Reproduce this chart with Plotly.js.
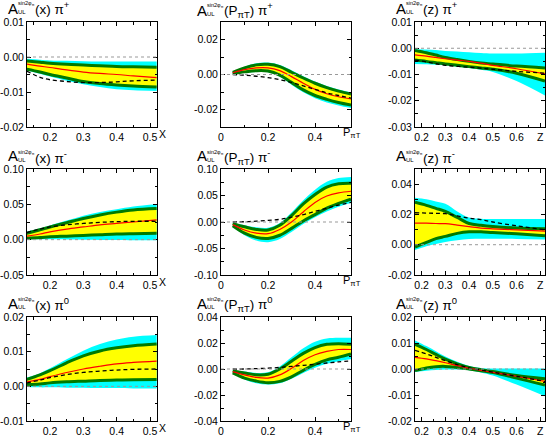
<!DOCTYPE html>
<html>
<head>
<meta charset="utf-8">
<script src="https://cdn.plot.ly/plotly-3.0.1.min.js"></script>
<style>html,body{margin:0;padding:0;background:#fff;}#chart{width:550px;height:437px;}</style>
</head>
<body>
<div id="chart"></div>
<script>
// ---------------- data ----------------
// column 1: x
const xX = [0.13, 0.17, 0.2, 0.25, 0.3, 0.35, 0.4, 0.45, 0.52];
// column 2: P_piT
const xP = [0.05, 0.1, 0.15, 0.2, 0.25, 0.3, 0.35, 0.4, 0.45, 0.5, 0.553];
// column 3: z
const xZ = [0.172, 0.22, 0.26, 0.3, 0.35, 0.4, 0.45, 0.5, 0.6, 0.72];

// panel 1: x, pi+
const p1CyanLo = [-0.0038, -0.0048, -0.0056, -0.0068, -0.0078, -0.0086, -0.0092, -0.0095, -0.0097];
const p1CyanHi = [-0.0005, -0.0008, -0.001, -0.0011, -0.0012, -0.0013, -0.0013, -0.0013, -0.0013];
const p1YelLo  = [-0.0035, -0.0043, -0.005, -0.006, -0.007, -0.0076, -0.008, -0.0083, -0.0086];
const p1YelHi  = [-0.0011, -0.0015, -0.0018, -0.0021, -0.0023, -0.0025, -0.0027, -0.0028, -0.0029];
const p1Red    = [-0.002, -0.0026, -0.003, -0.0037, -0.0043, -0.0047, -0.005, -0.0054, -0.0059];
const p1Dash   = [-0.004, -0.0058, -0.0065, -0.007, -0.0073, -0.0073, -0.0071, -0.0068, -0.0066];

// panel 2: P_piT, pi+
const p2CyanLo = [0.0003, 0.001, 0.0015, 0.0013, -0.0013, -0.0058, -0.0102, -0.0135, -0.016, -0.0177, -0.0192];
const p2CyanHi = [0.0015, 0.0045, 0.0065, 0.0068, 0.0055, 0.0025, -0.001, -0.004, -0.0065, -0.0085, -0.0102];
const p2YelLo  = [0.0005, 0.0015, 0.0022, 0.002, -0.0003, -0.0045, -0.0088, -0.012, -0.0142, -0.016, -0.0175];
const p2YelHi  = [0.0012, 0.0038, 0.0055, 0.0058, 0.0045, 0.0013, -0.002, -0.005, -0.0075, -0.0095, -0.0112];
const p2Red    = [0.001, 0.0028, 0.0038, 0.0038, 0.0022, -0.0012, -0.005, -0.0085, -0.011, -0.0127, -0.014];
const p2Dash   = [0, -0.0004, -0.001, -0.0018, -0.003, -0.0045, -0.0065, -0.0085, -0.0105, -0.012, -0.0135];

// panel 3: z, pi+
const p3CyanLo = [-0.006, -0.0061, -0.0063, -0.0065, -0.007, -0.0075, -0.0082, -0.009, -0.0125, -0.018];
const p3CyanHi = [-0.0003, -0.0005, -0.0007, -0.001, -0.0012, -0.0015, -0.0018, -0.002, -0.002, -0.0017];
const p3YelLo  = [-0.0045, -0.005, -0.0055, -0.006, -0.0065, -0.007, -0.0075, -0.008, -0.0095, -0.0125];
const p3YelHi  = [-0.0008, -0.0017, -0.0026, -0.0035, -0.0043, -0.005, -0.0056, -0.006, -0.0068, -0.0075];
const p3Red    = [-0.0025, -0.003, -0.0035, -0.004, -0.0045, -0.005, -0.0057, -0.0065, -0.0078, -0.0098];
const p3Dash   = [-0.0045, -0.0052, -0.0059, -0.0065, -0.0069, -0.0072, -0.0076, -0.008, -0.0088, -0.0095];

// panel 4: x, pi-
const p4CyanLo = [0.0005, 0.0005, 0.0005, 0.0003, 0, -0.0003, -0.0005, -0.0008, -0.001];
const p4CyanHi = [0.011, 0.016, 0.02, 0.027, 0.034, 0.039, 0.043, 0.047, 0.05];
const p4YelLo  = [0.002, 0.003, 0.004, 0.005, 0.006, 0.007, 0.008, 0.0085, 0.009];
const p4YelHi  = [0.009, 0.014, 0.018, 0.024, 0.03, 0.035, 0.039, 0.042, 0.044];
const p4Red    = [0.005, 0.008, 0.011, 0.015, 0.018, 0.021, 0.023, 0.025, 0.028];
const p4Dash   = [0.01, 0.015, 0.018, 0.021, 0.023, 0.0245, 0.0255, 0.026, 0.026];

// panel 5: P_piT, pi-
const p5CyanLo = [-0.009, -0.025, -0.035, -0.038, -0.032, -0.019, -0.004, 0.009, 0.02, 0.029, 0.036];
const p5CyanHi = [-0.002, -0.006, -0.01, -0.011, -0.002, 0.018, 0.041, 0.061, 0.076, 0.083, 0.085];
const p5YelLo  = [-0.007, -0.021, -0.029, -0.031, -0.025, -0.012, 0.002, 0.014, 0.026, 0.035, 0.043];
const p5YelHi  = [-0.003, -0.009, -0.014, -0.015, -0.006, 0.012, 0.034, 0.052, 0.066, 0.072, 0.073];
const p5Red    = [-0.005, -0.015, -0.021, -0.022, -0.014, 0.0, 0.019, 0.037, 0.049, 0.055, 0.058];
const p5Dash   = [0, 0.0005, 0.0015, 0.003, 0.005, 0.009, 0.014, 0.02, 0.026, 0.032, 0.037];

// panel 6: z, pi-
const p6CyanLo = [-0.0035, -0.001, 0.0005, 0.0018, 0.003, 0.0038, 0.004, 0.004, 0.0038, 0.0035];
const p6CyanHi = [0.031, 0.03, 0.0285, 0.027, 0.022, 0.018, 0.0172, 0.017, 0.017, 0.017];
const p6YelLo  = [-0.0015, 0.0015, 0.004, 0.0055, 0.0075, 0.0085, 0.0085, 0.008, 0.0072, 0.006];
const p6YelHi  = [0.028, 0.026, 0.024, 0.022, 0.018, 0.014, 0.0128, 0.012, 0.011, 0.0105];
const p6Red    = [0.0143, 0.0142, 0.014, 0.0139, 0.013, 0.012, 0.011, 0.0105, 0.0098, 0.009];
const p6Dash   = [0.0211, 0.0209, 0.0207, 0.0205, 0.019, 0.0175, 0.0166, 0.015, 0.0125, 0.0098];

// panel 7: x, pi0
const p7CyanLo = [-0.0002, -0.0003, -0.0003, -0.0004, -0.0004, -0.0005, -0.0005, -0.0006, -0.0006];
const p7CyanHi = [0.0025, 0.0038, 0.0052, 0.0078, 0.0103, 0.0122, 0.0135, 0.0143, 0.0148];
const p7YelLo  = [0.0005, 0.0007, 0.001, 0.0013, 0.0015, 0.0017, 0.0018, 0.0019, 0.002];
const p7YelHi  = [0.002, 0.0033, 0.0045, 0.0068, 0.0088, 0.0102, 0.0111, 0.0117, 0.0122];
const p7Red    = [0.0013, 0.002, 0.0028, 0.004, 0.005, 0.0058, 0.0065, 0.0069, 0.0073];
const p7Dash   = [0.001, 0.0018, 0.0025, 0.0034, 0.004, 0.0044, 0.0047, 0.0049, 0.005];

// panel 8: P_piT, pi0
const p8CyanLo = [-0.0035, -0.008, -0.011, -0.012, -0.011, -0.0075, -0.003, 0.001, 0.004, 0.006, 0.0075];
const p8CyanHi = [-0.001, -0.002, -0.003, -0.0025, 0.002, 0.009, 0.016, 0.021, 0.0235, 0.024, 0.024];
const p8YelLo  = [-0.003, -0.007, -0.0093, -0.0105, -0.0095, -0.006, -0.001, 0.0035, 0.007, 0.009, 0.0115];
const p8YelHi  = [-0.0015, -0.003, -0.0045, -0.004, 0.0, 0.006, 0.012, 0.0165, 0.019, 0.0195, 0.019];
const p8Red    = [-0.002, -0.0045, -0.0065, -0.007, -0.0045, 0.0005, 0.0065, 0.011, 0.0135, 0.015, 0.015];
const p8Dash   = [0, 0, 0.0003, 0.0006, 0.0012, 0.002, 0.0028, 0.0037, 0.0046, 0.0055, 0.0062];

// panel 9: z, pi0
const p9CyanLo = [-0.0012, -0.0007, -0.0004, -0.0002, -0.0002, -0.0005, -0.0013, -0.0025, -0.006, -0.0105];
const p9CyanHi = [0.011, 0.0088, 0.0068, 0.0048, 0.0028, 0.0012, 0.0004, 0.0002, 0.0002, 0.0002];
const p9YelLo  = [-0.0006, 0.0004, 0.0009, 0.001, 0.0006, 0.0, -0.0007, -0.0014, -0.0035, -0.0062];
const p9YelHi  = [0.0095, 0.0075, 0.0056, 0.0038, 0.002, 0.0006, -0.0003, -0.001, -0.0025, -0.0038];
const p9Red    = [0.0045, 0.0039, 0.0032, 0.0024, 0.0013, 0.0003, -0.0005, -0.0013, -0.0028, -0.0048];
const p9Dash   = [0.0072, 0.0058, 0.0045, 0.0032, 0.0017, 0.0004, -0.0004, -0.0012, -0.0028, -0.0048];

// tick values / labels
const xTicksX = [0.2, 0.3, 0.4, 0.5];
const xTickTextX = ['0.2', '0.3', '0.4', '0.5'];
const xTicksP = [0, 0.2, 0.4];
const xTickTextP = ['0', '0.2', '0.4'];
const xTicksZ = [0.2, 0.3, 0.4, 0.5, 0.6, 0.7];
const xTickTextZ = ['0.2', '0.3', '0.4', '0.5', '0.6', 'Z'];

const y1Ticks = [-0.02, -0.01, 0, 0.01];            const y1Text = ['-0.02', '-0.01', '0.00', '0.01'];
const y2Ticks = [-0.02, 0, 0.02];                    const y2Text = ['-0.02', '0.00', '0.02'];
const y3Ticks = [-0.03, -0.02, -0.01, 0, 0.01];      const y3Text = ['-0.03', '-0.02', '-0.01', '0.00', '0.01'];
const y4Ticks = [-0.05, 0, 0.05, 0.1];               const y4Text = ['-0.05', '0.00', '0.05', '0.10'];
const y5Ticks = [-0.1, -0.05, 0, 0.05, 0.1];         const y5Text = ['-0.10', '-0.05', '0.00', '0.05', '0.10'];
const y6Ticks = [-0.02, 0, 0.02, 0.04];              const y6Text = ['-0.02', '0.00', '0.02', '0.04'];
const y7Ticks = [-0.01, 0, 0.01, 0.02];              const y7Text = ['-0.01', '0.00', '0.01', '0.02'];
const y8Ticks = [-0.04, -0.02, 0, 0.02, 0.04];       const y8Text = ['-0.04', '-0.02', '0.00', '0.02', '0.04'];
const y9Ticks = [-0.02, -0.01, 0, 0.01, 0.02];       const y9Text = ['-0.02', '-0.01', '0.00', '0.01', '0.02'];

const titleVar = ['(x)', '(P<sub>πT</sub>)', '(z)'];
const titleParticle = ['π<sup>+</sup>', 'π<sup>-</sup>', 'π<sup>0</sup>'];
const axisLabelX = 'X';
const axisLabelP = 'P<sub>πT</sub>';

// ---------------- layout geometry ----------------
const W = 550, H = 437;
const colPx = [[27, 157], [221, 351], [415, 545]];
const rowPx = [[22, 127], [169, 275], [317, 421]];
const fx = p => p / W;
const fy = p => 1 - p / H;

const cols = [
  {x: xX, range: [0.131, 0.521], tv: xTicksX, tt: xTickTextX, minor: 0.05},
  {x: xP, range: [0, 0.553], tv: xTicksP, tt: xTickTextP, minor: 0.1},
  {x: xZ, range: [0.172, 0.72], tv: xTicksZ, tt: xTickTextZ, minor: 0.05}
];
const panels = [
  {r:0,c:0, yr:[-0.02,0.01], tv:y1Ticks, tt:y1Text, minor:0.005, d:[p1CyanLo,p1CyanHi,p1YelLo,p1YelHi,p1Red,p1Dash]},
  {r:0,c:1, yr:[-0.03,0.03], tv:y2Ticks, tt:y2Text, minor:0.01, d:[p2CyanLo,p2CyanHi,p2YelLo,p2YelHi,p2Red,p2Dash]},
  {r:0,c:2, yr:[-0.03,0.01], tv:y3Ticks, tt:y3Text, minor:0.005, d:[p3CyanLo,p3CyanHi,p3YelLo,p3YelHi,p3Red,p3Dash]},
  {r:1,c:0, yr:[-0.05,0.10], tv:y4Ticks, tt:y4Text, minor:0.025, d:[p4CyanLo,p4CyanHi,p4YelLo,p4YelHi,p4Red,p4Dash]},
  {r:1,c:1, yr:[-0.10,0.10], tv:y5Ticks, tt:y5Text, minor:0.025, d:[p5CyanLo,p5CyanHi,p5YelLo,p5YelHi,p5Red,p5Dash]},
  {r:1,c:2, yr:[-0.02,0.05], tv:y6Ticks, tt:y6Text, minor:0.01, d:[p6CyanLo,p6CyanHi,p6YelLo,p6YelHi,p6Red,p6Dash]},
  {r:2,c:0, yr:[-0.01,0.02], tv:y7Ticks, tt:y7Text, minor:0.005, d:[p7CyanLo,p7CyanHi,p7YelLo,p7YelHi,p7Red,p7Dash]},
  {r:2,c:1, yr:[-0.04,0.04], tv:y8Ticks, tt:y8Text, minor:0.01, d:[p8CyanLo,p8CyanHi,p8YelLo,p8YelHi,p8Red,p8Dash]},
  {r:2,c:2, yr:[-0.02,0.02], tv:y9Ticks, tt:y9Text, minor:0.005, d:[p9CyanLo,p9CyanHi,p9YelLo,p9YelHi,p9Red,p9Dash]}
];

const CYAN = '#00ffff', YEL = '#ffff00', GREEN = '#007a00', RED = '#ff0000';
const FONT = 'Liberation Sans, Arial, Helvetica, sans-serif';
const tickFont = {family: FONT, size: 10.5, color: '#000'};

const traces = [];
const layout = {
  width: W, height: H,
  margin: {l: 0, r: 0, t: 0, b: 0},
  paper_bgcolor: '#fff', plot_bgcolor: '#fff',
  showlegend: false,
  shapes: [], annotations: []
};

const titleAx = [8, 197, 396];
const titleAy = [[8, 10, 8], [156, 156, 156], [303, 303, 303]];

panels.forEach((p, i) => {
  const n = i + 1;
  const xa = 'x' + (n === 1 ? '' : n), ya = 'y' + (n === 1 ? '' : n);
  const col = cols[p.c];
  const X = col.x;
  const base = {x: X, xaxis: xa, yaxis: ya, mode: 'lines', hoverinfo: 'skip'};
  const [cLo, cHi, yLo, yHi, red, dash] = p.d;
  traces.push(Object.assign({}, base, {y: cLo, line: {width: 0, shape: 'spline', color: CYAN}}));
  traces.push(Object.assign({}, base, {y: cHi, fill: 'tonexty', fillcolor: CYAN, line: {width: 0, shape: 'spline', color: CYAN}}));
  traces.push(Object.assign({}, base, {y: yLo, line: {width: 0, shape: 'spline', color: YEL}}));
  traces.push(Object.assign({}, base, {y: yHi, fill: 'tonexty', fillcolor: YEL, line: {width: 0, shape: 'spline', color: YEL}}));
  traces.push(Object.assign({}, base, {y: yLo, line: {width: 3, shape: 'spline', color: GREEN}}));
  traces.push(Object.assign({}, base, {y: yHi, line: {width: 3, shape: 'spline', color: GREEN}}));
  traces.push(Object.assign({}, base, {y: red, line: {width: 1.2, shape: 'spline', color: RED}}));
  traces.push(Object.assign({}, base, {y: dash, line: {width: 1.3, shape: 'spline', color: '#000', dash: '4px,3px'}}));

  const cp = colPx[p.c], rp = rowPx[p.r];
  layout['xaxis' + (n === 1 ? '' : n)] = {
    domain: [fx(cp[0]), fx(cp[1])], anchor: ya, range: col.range,
    tickmode: 'array', tickvals: col.tv, ticktext: col.tt,
    ticks: 'inside', ticklen: 4, tickwidth: 1, tickcolor: '#000',
    minor: {dtick: col.minor, tick0: 0, ticks: 'inside', ticklen: 2.5, tickcolor: '#000'},
    mirror: 'ticks', showline: true, linecolor: '#000', linewidth: 1,
    showgrid: false, zeroline: false, tickfont: tickFont, ticklabelstandoff: 0
  };
  layout['yaxis' + (n === 1 ? '' : n)] = {
    domain: [fy(rp[1]), fy(rp[0])], anchor: xa, range: p.yr,
    tickmode: 'array', tickvals: p.tv, ticktext: p.tt,
    ticks: 'inside', ticklen: 4, tickwidth: 1, tickcolor: '#000',
    minor: {dtick: p.minor, tick0: 0, ticks: 'inside', ticklen: 2.5, tickcolor: '#000'},
    mirror: 'ticks', showline: true, linecolor: '#000', linewidth: 1,
    showgrid: false, zeroline: false, tickfont: tickFont, ticklabelstandoff: 0
  };
  layout.shapes.push({type: 'line', xref: xa + ' domain', yref: ya, x0: 0, x1: 1, y0: 0, y1: 0,
    line: {color: '#999', width: 1, dash: 'dot'}, layer: 'above'});

  // title pieces
  const ax = titleAx[p.c], ay = titleAy[p.r][p.c];
  const ann = (text, x, y, size) => layout.annotations.push({
    text: text, xref: 'paper', yref: 'paper', x: fx(x), y: fy(y), xanchor: 'left', yanchor: 'middle',
    showarrow: false, font: {family: FONT, size: size, color: '#000'}, borderpad: 0
  });
  ann('A', ax - 1, ay, 15);
  ann('sin2φ<sub>π</sub>', ax + 9, ay - 4, 5.5);
  ann('UL', ax + 9, ay + 4, 6);
  ann(titleVar[p.c] + ' ' + titleParticle[p.r], ax + 26, ay + 0.5, 13.5);

  // axis label for columns 1 and 2
  if (p.c === 0) {
    layout.annotations.push({text: axisLabelX, xref: 'paper', yref: 'paper', x: fx(cp[1] + 1), y: fy(rp[1] + 7),
      xanchor: 'left', yanchor: 'middle', showarrow: false, font: {family: FONT, size: 10.5, color: '#000'}, borderpad: 0});
  } else if (p.c === 1) {
    layout.annotations.push({text: axisLabelP, xref: 'paper', yref: 'paper', x: fx(cp[1] + 1), y: fy(rp[1] + 6),
      xanchor: 'center', yanchor: 'middle', showarrow: false, font: {family: FONT, size: 11, color: '#000'}, borderpad: 0});
  }
});

Plotly.newPlot('chart', traces, layout, {staticPlot: true, displayModeBar: false});
</script>
</body>
</html>
